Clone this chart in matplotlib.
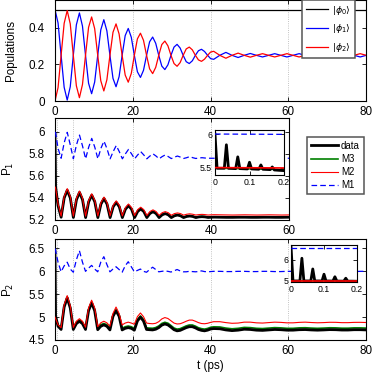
import numpy as np
import matplotlib.pyplot as plt

plt.rcParams['font.family'] = ['Liberation Sans', 'DejaVu Sans']
plt.rcParams['mathtext.fontset'] = 'dejavusans'

# ---- sample times (ps) ------------------------------------------------------
T_TOP = np.r_[np.arange(53) * 0.785, 40.82 + np.arange(1, 26) * 1.57]
T_OSC = np.r_[0.0, 0.15, np.arange(1, 53) * 0.785, 40.82 + np.arange(1, 26) * 1.57]
T_SPIKE = [0.000, 0.006, 0.027, 0.033, 0.039, 0.060, 0.066, 0.072, 0.094, 0.100,
           0.106, 0.127, 0.133, 0.139, 0.160, 0.166, 0.172, 0.185, 0.200]
T_EDGE = [0.0, 0.2]

# ---- populations (top panel) ----------------------------------------------
phi0 = [0.5] * len(T_TOP)
phi1 = [.500, .427, .250, .075, .005, .078, .250, .417, .482, .410,
        .250, .097, .040, .104, .250, .389, .445, .384, .250, .124,
        .078, .133, .250, .358, .397, .349, .250, .160, .129, .168,
        .250, .324, .350, .316, .250, .191, .172, .198, .250, .295,
        .310, .290, .250, .215, .205, .220, .250, .275, .283, .271,
        .250, .232, .228,
        .250, .266, .250, .238, .250, .260, .250, .241, .250, .259,
        .250, .241, .250, .259, .250, .241, .250, .259, .250, .241,
        .250, .259, .250, .241, .250]
phi2 = [.000, .073, .250, .425, .495, .422, .250, .083, .018, .090,
        .250, .403, .460, .396, .250, .111, .055, .116, .250, .376,
        .422, .367, .250, .142, .103, .151, .250, .340, .371, .332,
        .250, .176, .150, .184, .250, .309, .328, .302, .250, .205,
        .190, .210, .250, .285, .295, .280, .250, .225, .217, .229,
        .250, .268, .272,
        .250, .234, .250, .262, .250, .240, .250, .259, .250, .241,
        .250, .259, .250, .241, .250, .259, .250, .241, .250, .259,
        .250, .241, .250, .259, .250]

# ---- P1 (middle panel) ------------------------------------------------------
p1_data = [5.98, 5.50,
           5.33, 5.225, 5.40, 5.47, 5.40, 5.223, 5.383, 5.45, 5.383, 5.222,
           5.365, 5.425, 5.365, 5.222, 5.344, 5.395, 5.344, 5.222, 5.32, 5.36,
           5.32, 5.222, 5.298, 5.33, 5.298, 5.222, 5.277, 5.30, 5.277, 5.222,
           5.259, 5.275, 5.259, 5.222, 5.247, 5.258, 5.247, 5.222, 5.238, 5.245,
           5.238, 5.222, 5.232, 5.236, 5.232, 5.222, 5.228, 5.23, 5.228, 5.223, 5.225, 5.226,
           5.225, 5.224, 5.224, 5.225, 5.225, 5.224, 5.224, 5.225, 5.225, 5.224,
           5.224, 5.225, 5.225, 5.224, 5.224, 5.225, 5.225, 5.224, 5.224, 5.225,
           5.225, 5.224, 5.224, 5.225, 5.225]
p1_m3 = [5.50, 5.49,
         5.332, 5.227, 5.402, 5.472, 5.402, 5.225, 5.385, 5.452, 5.385, 5.224,
         5.367, 5.427, 5.367, 5.224, 5.346, 5.397, 5.346, 5.224, 5.322, 5.362,
         5.322, 5.224, 5.300, 5.332, 5.300, 5.224, 5.279, 5.302, 5.279, 5.224,
         5.261, 5.277, 5.261, 5.224, 5.249, 5.260, 5.249, 5.224, 5.240, 5.247,
         5.240, 5.224, 5.234, 5.238, 5.234, 5.224, 5.230, 5.232, 5.230, 5.225, 5.227, 5.228,
         5.227, 5.226, 5.226, 5.227, 5.227, 5.226, 5.226, 5.227, 5.227, 5.226,
         5.226, 5.227, 5.227, 5.226, 5.226, 5.227, 5.227, 5.226, 5.226, 5.227,
         5.227, 5.226, 5.226, 5.227, 5.227]
p1_m2 = [5.50, 5.49,
         5.345, 5.235, 5.413, 5.485, 5.413, 5.235, 5.397, 5.463, 5.397, 5.235,
         5.378, 5.438, 5.378, 5.236, 5.358, 5.408, 5.358, 5.237, 5.334, 5.374,
         5.334, 5.238, 5.313, 5.345, 5.313, 5.24, 5.294, 5.316, 5.294, 5.241,
         5.277, 5.292, 5.277, 5.242, 5.266, 5.276, 5.266, 5.243, 5.258, 5.264,
         5.258, 5.244, 5.252, 5.256, 5.252, 5.245, 5.249, 5.251, 5.249, 5.245, 5.247, 5.248,
         5.247, 5.246, 5.245, 5.246, 5.247, 5.246, 5.245, 5.246, 5.247, 5.246,
         5.245, 5.246, 5.247, 5.246, 5.245, 5.246, 5.247, 5.246, 5.245, 5.246,
         5.247, 5.246, 5.245, 5.246, 5.247]
p1_m1 = [6.00, 5.99,
         5.85, 5.76, 5.90, 5.995, 5.88, 5.755, 5.88, 5.97, 5.87, 5.755,
         5.86, 5.94, 5.86, 5.755, 5.85, 5.915, 5.845, 5.755, 5.82, 5.875,
         5.82, 5.755, 5.80, 5.84, 5.80, 5.755, 5.79, 5.82, 5.79, 5.755,
         5.78, 5.80, 5.78, 5.755, 5.775, 5.79, 5.775, 5.757, 5.77, 5.78,
         5.77, 5.758, 5.765, 5.775, 5.765, 5.758, 5.762, 5.765, 5.762, 5.76, 5.76, 5.76,
         5.76, 5.76, 5.76, 5.76, 5.76, 5.76, 5.76, 5.76, 5.76, 5.76,
         5.76, 5.76, 5.76, 5.76, 5.76, 5.76, 5.76, 5.76, 5.76, 5.76,
         5.76, 5.76, 5.76, 5.76, 5.76]

# ---- P2 (bottom panel) ------------------------------------------------------
p2_data = [6.45, 5.02,
           4.80, 4.73, 5.22, 5.42, 5.20, 4.73, 4.857, 4.91, 4.857, 4.73,
           5.14, 5.31, 5.14, 4.725, 4.80, 4.83, 4.80, 4.72, 5.017, 5.14,
           5.02, 4.72, 4.755, 4.77, 4.755, 4.715, 4.915, 5.00, 4.915, 4.73,
           4.725, 4.72, 4.735, 4.77, 4.825, 4.85, 4.83, 4.78, 4.725, 4.70,
           4.71, 4.74, 4.77, 4.79, 4.79, 4.765, 4.73, 4.71, 4.70, 4.715, 4.74, 4.75,
           4.745, 4.72, 4.705, 4.715, 4.735, 4.73, 4.715, 4.71, 4.72, 4.73,
           4.725, 4.715, 4.715, 4.725, 4.728, 4.72, 4.715, 4.72, 4.727, 4.725,
           4.718, 4.718, 4.725, 4.725, 4.72]
p2_m3 = [5.00, 4.98,
         4.83, 4.765, 5.245, 5.44, 5.225, 4.765, 4.89, 4.935, 4.89, 4.765,
         5.165, 5.33, 5.165, 4.76, 4.835, 4.86, 4.835, 4.755, 5.045, 5.16,
         5.045, 4.755, 4.79, 4.805, 4.79, 4.75, 4.945, 5.025, 4.945, 4.765,
         4.76, 4.757, 4.772, 4.807, 4.862, 4.887, 4.867, 4.817, 4.762, 4.738,
         4.748, 4.778, 4.808, 4.828, 4.828, 4.803, 4.768, 4.748, 4.738, 4.753, 4.778, 4.788,
         4.785, 4.76, 4.745, 4.755, 4.775, 4.77, 4.755, 4.75, 4.76, 4.77,
         4.765, 4.755, 4.755, 4.765, 4.768, 4.76, 4.755, 4.76, 4.767, 4.765,
         4.758, 4.758, 4.765, 4.765, 4.76]
p2_m2 = [5.00, 4.97,
         4.83, 4.77, 5.27, 5.47, 5.25, 4.775, 4.91, 4.965, 4.91, 4.78,
         5.20, 5.37, 5.20, 4.79, 4.875, 4.91, 4.875, 4.80, 5.08, 5.22,
         5.08, 4.83, 4.87, 4.89, 4.87, 4.845, 5.01, 5.09, 5.01, 4.87,
         4.86, 4.855, 4.865, 4.90, 4.96, 4.99, 4.97, 4.92, 4.87, 4.85,
         4.855, 4.88, 4.91, 4.935, 4.935, 4.91, 4.88, 4.86, 4.855, 4.865, 4.885, 4.90,
         4.90, 4.88, 4.865, 4.87, 4.89, 4.89, 4.875, 4.87, 4.88, 4.89,
         4.885, 4.875, 4.875, 4.885, 4.89, 4.882, 4.876, 4.88, 4.887, 4.886,
         4.879, 4.879, 4.885, 4.886, 4.882]
p2_m1 = [6.50, 6.45,
         6.20, 5.99, 6.12, 6.20, 6.05, 5.98, 6.25, 6.45, 6.20, 6.00,
         6.07, 6.13, 6.05, 5.99, 6.20, 6.32, 6.15, 5.99, 6.05, 6.10,
         6.04, 5.98, 6.12, 6.21, 6.10, 5.99, 6.02, 6.05, 6.00, 5.98,
         6.04, 6.09, 6.04, 5.99, 6.00, 6.01, 6.00, 5.985, 6.01, 6.04,
         6.01, 5.99, 5.99, 6.00, 5.995, 5.99, 5.995, 6.01, 5.995, 5.99, 5.995, 6.00,
         6.00, 5.995, 5.995, 6.00, 6.00, 5.995, 5.995, 6.00, 6.00, 5.995,
         5.995, 6.00, 6.00, 5.995, 5.995, 6.00, 6.00, 5.995, 5.995, 6.00,
         6.00, 5.995, 5.995, 6.00, 6.00]

# ---- insets: first 0.2 ps -------------------------------------------------
p1_spike = [6.00, 5.49, 5.49, 5.84, 5.49, 5.485, 5.66, 5.485, 5.48, 5.58,
            5.48, 5.475, 5.54, 5.475, 5.47, 5.51, 5.465, 5.46, 5.455]
p2_spike = [6.65, 5.00, 5.00, 6.08, 5.00, 5.00, 5.57, 5.00, 5.00, 5.32,
            5.00, 4.995, 5.20, 4.995, 4.99, 5.13, 4.99, 4.99, 4.985]
p1_m3_in = [5.49, 5.47]
p1_m2_in = [5.50, 5.495]
p1_m1_in = [6.00, 5.995]
p2_m3_in = [5.00, 4.99]
p2_m2_in = [5.00, 5.00]
p2_m1_in = [6.57, 6.57]

GREEN = '#008000'
DASH = (0, (4.5, 2.5))

fig = plt.figure(figsize=(3.74, 3.74), dpi=100)


def px_axes(l, t, r, b):
    return fig.add_axes([l / 374, 1 - b / 374, (r - l) / 374, (b - t) / 374])


def style(ax, fs=8.4, ypad=7.5):
    ax.tick_params(direction='in', top=True, right=True, length=3, width=0.6,
                   labelsize=fs)
    ax.tick_params(axis='y', pad=ypad)
    ax.tick_params(axis='x', pad=3.5)
    for s in ax.spines.values():
        s.set_linewidth(0.8)


ax_top = px_axes(55, 0.5, 366, 101)
ax_p1 = px_axes(55, 118, 289, 220)
ax_p2 = px_axes(55, 239.3, 366, 340)
in1 = px_axes(215, 130, 284, 175)
in2 = px_axes(291, 245, 357, 282)

# top: populations
ax_top.plot(T_TOP, phi0, color='black', lw=0.9, label=r'$|\phi_0\rangle$')
ax_top.plot(T_TOP, phi1, color='blue', lw=0.9, label=r'$|\phi_1\rangle$')
ax_top.plot(T_TOP, phi2, color='red', lw=0.9, label=r'$|\phi_2\rangle$')
ax_top.set_xlim(0, 80)
ax_top.set_ylim(0, 0.55)
ax_top.set_xticks([0, 20, 40, 60, 80])
ax_top.set_yticks([0, 0.2, 0.4])
ax_top.set_yticklabels(['0', '0.2', '0.4'])
ax_top.set_ylabel('Populations', fontsize=8.4)
ax_top.yaxis.set_label_coords(-0.122, 0.5)
for x in [20, 40, 60]:
    ax_top.axvline(x, color='#b0b0b0', ls=':', lw=0.6, zorder=0)
style(ax_top)
ax_top.legend(loc='upper left', bbox_to_anchor=(302 / 374, 1.0),
              bbox_transform=fig.transFigure, borderaxespad=0, fontsize=6.8,
              handlelength=2.4, handletextpad=0.4, labelspacing=0.6,
              fancybox=False, framealpha=1, edgecolor='#555555')
ax_top.get_legend().get_frame().set_linewidth(1.1)


def panel(ax, data, m3, m2, m1, xmax, ylim, yticks, yticklabels):
    ax.plot(T_OSC, m3, color=GREEN, lw=1.2, zorder=2, label='M3')
    ax.plot(T_OSC, data, color='black', lw=2.0, zorder=3, label='data')
    ax.plot(T_OSC, m2, color='red', lw=0.8, zorder=4, label='M2')
    ax.plot(T_OSC, m1, color='blue', lw=0.9, ls=DASH, zorder=5, label='M1')
    ax.set_xlim(0, xmax)
    ax.set_ylim(*ylim)
    ax.set_xticks(list(range(0, xmax + 1, 20)))
    ax.set_yticks(yticks)
    ax.set_yticklabels(yticklabels)
    for x in [0.6, 4.7] + list(range(20, xmax + 1, 20)):
        ax.axvline(x, color='#b0b0b0', ls=':', lw=0.6, zorder=0)
    style(ax)


panel(ax_p1, p1_data, p1_m3, p1_m2, p1_m1, 60, (5.2, 6.125),
      [5.2, 5.4, 5.6, 5.8, 6.0], ['5.2', '5.4', '5.6', '5.8', '6'])
ax_p1.set_ylabel(r'P$_1$', fontsize=8.4)
ax_p1.yaxis.set_label_coords(-0.168, 0.5)

panel(ax_p2, p2_data, p2_m3, p2_m2, p2_m1, 80, (4.5, 6.7),
      [4.5, 5.0, 5.5, 6.0, 6.5], ['4.5', '5', '5.5', '6', '6.5'])
ax_p2.set_ylabel(r'P$_2$', fontsize=8.4)
ax_p2.yaxis.set_label_coords(-0.127, 0.5)
ax_p2.set_xlabel('t (ps)', fontsize=8.4, labelpad=2.5)

h, l = ax_p1.get_legend_handles_labels()
order = [1, 0, 2, 3]
ax_p1.legend([h[i] for i in order], [l[i] for i in order],
             loc='upper left', bbox_to_anchor=(307 / 374, 1 - 137 / 374),
             bbox_transform=fig.transFigure, borderaxespad=0, fontsize=7.0,
             handlelength=2.8, handletextpad=0.3, labelspacing=0.32,
             fancybox=False, framealpha=1, edgecolor='#555555')
ax_p1.get_legend().get_frame().set_linewidth(1.1)


def inset(ax, spike, m3, m2, m1, ylim, yticks, yticklabels):
    ax.plot(T_EDGE, m3, color=GREEN, lw=1.0, zorder=2)
    ax.plot(T_SPIKE, spike, color='black', lw=2.0, zorder=3)
    ax.plot(T_EDGE, m2, color='red', lw=1.2, zorder=4)
    ax.plot(T_EDGE, m1, color='blue', lw=0.9, ls=DASH, zorder=5)
    ax.set_xlim(0, 0.2)
    ax.set_ylim(*ylim)
    ax.set_xticks([0, 0.1, 0.2])
    ax.set_xticklabels(['0', '0.1', '0.2'])
    ax.set_yticks(yticks)
    ax.set_yticklabels(yticklabels)
    style(ax, fs=6.3, ypad=2)
    ax.tick_params(axis='x', pad=2.5)


inset(in1, p1_spike, p1_m3_in, p1_m2_in, p1_m1_in, (5.39, 6.06), [5.5, 6.0], ['5.5', '6'])
inset(in2, p2_spike, p2_m3_in, p2_m2_in, p2_m1_in, (4.95, 6.71), [5.0, 6.0], ['5', '6'])

fig.savefig('out.png', dpi=100)
